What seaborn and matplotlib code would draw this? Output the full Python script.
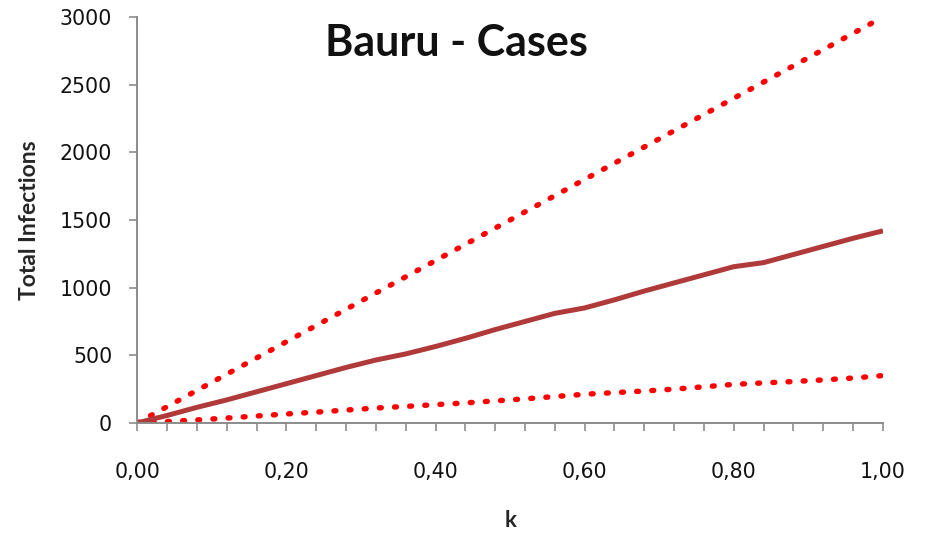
import matplotlib
matplotlib.use("Agg")
import matplotlib.pyplot as plt
import seaborn as sns
import numpy as np
import pandas as pd

k = [0.00, 0.04, 0.08, 0.12, 0.16, 0.20, 0.24, 0.28, 0.32, 0.36, 0.40, 0.44, 0.48,
     0.52, 0.56, 0.60, 0.64, 0.68, 0.72, 0.76, 0.80, 0.84, 0.88, 0.92, 0.96, 1.00]
middle = [0, 55, 115, 170, 230, 290, 350, 410, 465, 510, 565, 625, 690,
          750, 810, 850, 910, 975, 1035, 1095, 1155, 1185, 1245, 1305, 1365, 1420]
upper = [0, 120, 240, 360, 480, 600, 720, 840, 960, 1080, 1200, 1320, 1440,
         1560, 1680, 1800, 1920, 2040, 2160, 2280, 2400, 2520, 2640, 2760, 2880, 3000]
lower = [0, 10, 22, 36, 51, 66, 80, 95, 110, 122, 135, 148, 163,
         178, 195, 212, 224, 236, 250, 267, 285, 296, 306, 318, 332, 350]

xticks = [0.0, 0.2, 0.4, 0.6, 0.8, 1.0]
xticklabels = ["0,00", "0,20", "0,40", "0,60", "0,80", "1,00"]
yticks = [0, 500, 1000, 1500, 2000, 2500, 3000]

df = pd.DataFrame({"k": k, "upper": upper, "middle": middle, "lower": lower})

sns.set_style("ticks")
plt.rcParams["font.family"] = ["DejaVu Sans"]

fig = plt.figure(figsize=(9.27, 5.34), dpi=100)
ax = fig.add_axes([0.148, 0.208, 0.8045, 0.760])

dot = (0, (0.35, 2.45))
sns.lineplot(data=df, x="k", y="upper", ax=ax, color="#FF0000", lw=3.9,
             linestyle=dot, dash_capstyle="round")
sns.lineplot(data=df, x="k", y="lower", ax=ax, color="#FF0000", lw=3.9,
             linestyle=dot, dash_capstyle="round")
sns.lineplot(data=df, x="k", y="middle", ax=ax, color="#B03A3A", lw=3.6,
             solid_capstyle="butt")

ax.set_xlim(0, 1.0)
ax.set_ylim(0, 3000)
ax.set_xticks(np.arange(0, 1.0001, 0.04), minor=True)
ax.set_xticks(xticks)
ax.set_xticklabels(xticklabels)
ax.set_yticks(yticks)
ax.set_yticklabels([str(v) for v in yticks])

for s in ["top", "right"]:
    ax.spines[s].set_visible(False)
for s in ["left", "bottom"]:
    ax.spines[s].set_color("#8C8C8C")
    ax.spines[s].set_linewidth(1.4)

ax.tick_params(axis="both", which="both", direction="out", color="#8C8C8C",
               length=6, width=1.2, labelsize=14.8, labelcolor="#111111")
ax.tick_params(axis="x", which="minor", length=6)
ax.tick_params(axis="x", pad=22)
ax.tick_params(axis="y", pad=12)

ax.set_xlabel("k", fontsize=16, fontweight="bold", family=["Lato", "DejaVu Sans"], labelpad=20)
ax.set_ylabel("Total Infections", fontsize=16.5, fontweight="bold", family=["Lato", "DejaVu Sans"], labelpad=14)

ax.text(0.428, 0.935, "Bauru - Cases", transform=ax.transAxes, ha="center", va="center",
        fontsize=31, fontweight="bold", family=["Lato", "DejaVu Sans"], color="#111111")

fig.savefig("out.png", dpi=100, facecolor="white")
